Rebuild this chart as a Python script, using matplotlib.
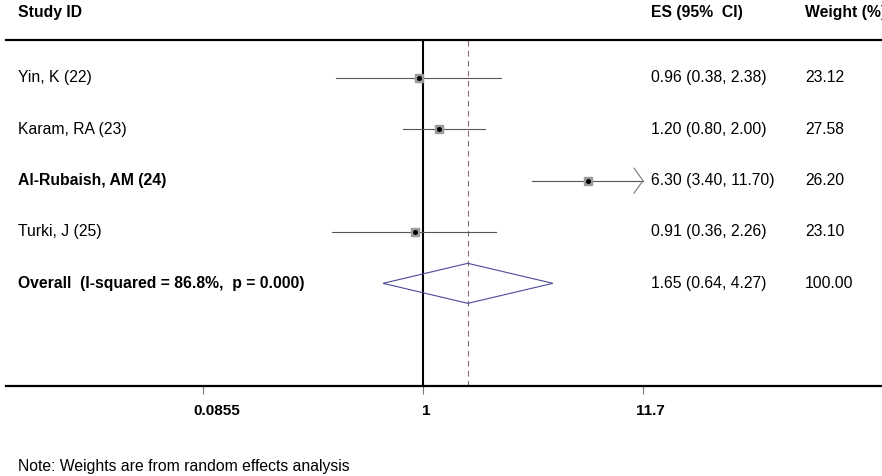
import numpy as np
import matplotlib
matplotlib.use("Agg")
import matplotlib.pyplot as plt
from matplotlib.transforms import blended_transform_factory, ScaledTranslation
from matplotlib.patches import Polygon
from matplotlib.ticker import NullFormatter, NullLocator

plt.rcParams['font.family'] = ['Liberation Sans', 'DejaVu Sans']

studies = ["Yin, K (22)", "Karam, RA (23)", "Al-Rubaish, AM (24)", "Turki, J (25)"]
bold_study = [False, False, True, False]
es = [0.96, 1.20, 6.30, 0.91]
lo = [0.38, 0.80, 3.40, 0.36]
hi = [2.38, 2.00, 11.70, 2.26]
weights = [23.12, 27.58, 26.20, 23.10]
es_text = ["0.96 (0.38, 2.38)", "1.20 (0.80, 2.00)", "6.30 (3.40, 11.70)", "0.91 (0.36, 2.26)"]
weight_text = ["23.12", "27.58", "26.20", "23.10"]

overall_label = "Overall  (I-squared = 86.8%,  p = 0.000)"
overall_es, overall_lo, overall_hi = 1.65, 0.64, 4.27
overall_es_text = "1.65 (0.64, 4.27)"
overall_weight_text = "100.00"

xticks = [0.0855, 1, 11.7]
xtick_labels = ["0.0855", "1", "11.7"]
axis_max = 11.7

W, H = 882, 476
fig = plt.figure(figsize=(W / 100, H / 100), dpi=100)
ax = fig.add_axes([6 / W, (H - 386) / H, 1 - 6 / W, (386 - 40) / H])
ax.set_xscale('log')
pxl = 89.45
ax.set_xlim(np.exp((6 - 423) / pxl), np.exp((882 - 423) / pxl))
ax.set_ylim(6.0, -0.74)
row_px = 51.25

for s in ['left', 'right']:
    ax.spines[s].set_visible(False)
ax.spines['top'].set_linewidth(1.6)
ax.spines['bottom'].set_linewidth(1.6)
ax.set_yticks([])
ax.set_xticks(xticks)
ax.set_xticklabels([])
ax.xaxis.set_minor_locator(NullLocator())
ax.xaxis.set_minor_formatter(NullFormatter())
ax.tick_params(axis='x', length=6, width=0.8, color='#777777')

# tick labels (Stata places them slightly right of the tick)
label_shift_px = [14, 3, 7]
tb = blended_transform_factory(ax.transData, fig.transFigure)
for t, lab, dx in zip(xticks, xtick_labels, label_shift_px):
    ax.text(t, 1 - 411 / H, lab, transform=tb + ScaledTranslation(dx / 100, 0, fig.dpi_scale_trans),
            fontsize=11, fontweight='bold', ha='center', va='center', clip_on=False)

# null line
ax.axvline(1, color='black', lw=1.5, zorder=2)
# overall dashed line
ax.axvline(overall_es, color='#8a6a6a', lw=0.8, ls=(0, (5, 4)), zorder=1)

for i, (e, l, h, w) in enumerate(zip(es, lo, hi, weights)):
    hh = min(h, axis_max)
    ax.plot([l, hh], [i, i], color='#555555', lw=0.8, zorder=3)
    if h >= axis_max:
        back = hh * np.exp(-9 / pxl)
        dy = 12.5 / row_px
        ax.plot([back, hh, back], [i - dy, i, i + dy], color='#777777', lw=0.8,
                zorder=3, clip_on=False)
    side = 1.05 * np.sqrt(w)
    ax.plot([e], [i], marker='s', ms=side, color='#9a9a9a', mec='#9a9a9a', zorder=4)
    ax.plot([e], [i], marker='o', ms=2.6, color='black', zorder=5)

oy = len(studies)
diamond = Polygon([[overall_lo, oy], [overall_es, oy - 0.39], [overall_hi, oy],
                   [overall_es, oy + 0.39]], closed=True, fill=False,
                  edgecolor='#4a4a9a', lw=0.8, zorder=4)
ax.add_patch(diamond)

tr = blended_transform_factory(fig.transFigure, ax.transData)
fs = 11.3
x_lab, x_es, x_w = 18 / W, 651 / W, 805 / W
for i, name in enumerate(studies):
    ax.text(x_lab, i, name, transform=tr, fontsize=fs, va='center', ha='left',
            fontweight='bold' if bold_study[i] else 'normal')
    ax.text(x_es, i, es_text[i], transform=tr, fontsize=fs, va='center', ha='left')
    ax.text(x_w, i, weight_text[i], transform=tr, fontsize=fs, va='center', ha='left')
ax.text(x_lab, oy, overall_label, transform=tr, fontsize=fs, va='center', ha='left', fontweight='bold')
ax.text(x_es, oy, overall_es_text, transform=tr, fontsize=fs, va='center', ha='left')
ax.text(x_w, oy, overall_weight_text, transform=tr, fontsize=fs, va='center', ha='left')

# headers
fig.text(x_lab, 1 - 13 / H, "Study ID", fontsize=fs, fontweight='bold', va='center', ha='left')
fig.text(x_es, 1 - 13 / H, "ES (95%  CI)", fontsize=fs, fontweight='bold', va='center', ha='left')
fig.text(x_w, 1 - 13 / H, "Weight (%)", fontsize=fs, fontweight='bold', va='center', ha='left')

fig.text(x_lab, 1 - 466 / H, "Note: Weights are from random effects analysis", fontsize=fs,
         va='center', ha='left')

fig.savefig("out.png", dpi=100, facecolor='white')
